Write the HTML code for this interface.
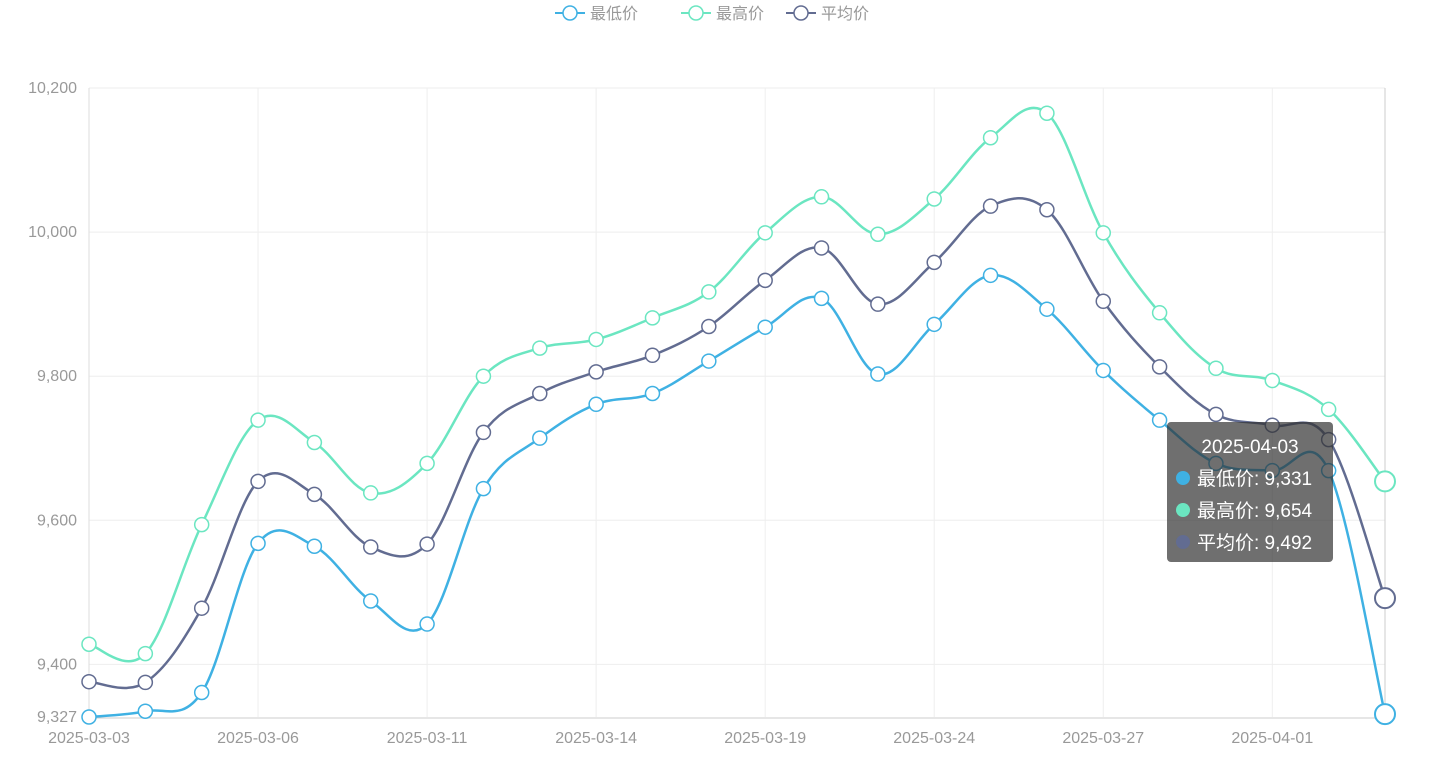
<!DOCTYPE html>
<html><head><meta charset="utf-8"><style>
body{margin:0;background:#fff;font-family:"Liberation Sans","Noto Sans CJK SC",sans-serif;}
svg{display:block}
</style></head><body>
<svg id="chart" width="1440" height="778" xmlns="http://www.w3.org/2000/svg" font-family="Liberation Sans, Noto Sans CJK SC, sans-serif"></svg>
<script>
const dates=["2025-03-03","2025-03-04","2025-03-05","2025-03-06","2025-03-07","2025-03-10","2025-03-11","2025-03-12","2025-03-13","2025-03-14","2025-03-17","2025-03-18","2025-03-19","2025-03-20","2025-03-21","2025-03-24","2025-03-25","2025-03-26","2025-03-27","2025-03-28","2025-03-31","2025-04-01","2025-04-02","2025-04-03"];
const lowValues=[9327,9335,9361,9568,9564,9488,9456,9644,9714,9761,9776,9821,9868,9908,9803,9872,9940,9893,9808,9739,9679,9669,9669,9331];
const highValues=[9428,9415,9594,9739,9708,9638,9679,9800,9839,9851,9881,9917,9999,10049,9997,10046,10131,10165,9999,9888,9811,9794,9754,9654];
const avgValues=[9376,9375,9478,9654,9636,9563,9567,9722,9776,9806,9829,9869,9933,9978,9900,9958,10036,10031,9904,9813,9747,9732,9712,9492];
const yTicks=[9400,9600,9800,10000,10200];
const yMin=9327,yMax=10200;
const seriesNames=["最低价","最高价","平均价"];
const colors=["#3fb1e3","#6be6c1","#626c91"];
const L=89,R=1385,T=88,B=717;
const NS="http://www.w3.org/2000/svg";
const svg=document.getElementById('chart');
const xs=i=>L+(R-L)*i/(dates.length-1);
const ys=v=>B-(v-yMin)/(yMax-yMin)*(B-T);
function el(t,a,p){const e=document.createElementNS(NS,t);for(const k in a)e.setAttribute(k,a[k]);(p||svg).appendChild(e);return e;}
// grid
yTicks.forEach(v=>{
 const g=el('line',{x1:L,x2:R,y1:ys(v),y2:ys(v),stroke:'#eee'});
 
 
 const t=el('text',{x:L-12,y:ys(v)+5,'text-anchor':'end','font-size':16,fill:'#999'});t.textContent=v.toLocaleString('en-US');
 
 
});
const tm=el('text',{x:L-12,y:B+5,'text-anchor':'end','font-size':16,fill:'#999'});tm.textContent=yMin.toLocaleString('en-US');


dates.forEach((d,i)=>{ if(i%3!==0)return;
 const g=el('line',{x1:xs(i),x2:xs(i),y1:T,y2:B,stroke:'#eee'});
 
 
 const t=el('text',{x:xs(i),y:B+26,'text-anchor':'middle','font-size':16,fill:'#999'});t.textContent=d;
 
 
});
const ax=el('line',{x1:L,x2:R,y1:B+1,y2:B+1,stroke:'#ccc'});


const ay=el('line',{x1:L,x2:L,y1:T,y2:B,stroke:'#ddd'});


const ar=el('line',{x1:R,x2:R,y1:T,y2:B,stroke:'#ccc'});


function smooth(pts){let d=`M${pts[0][0]},${pts[0][1]}`;const s=0.35;
 for(let i=0;i<pts.length-1;i++){const p0=pts[i-1]||pts[i],p1=pts[i],p2=pts[i+1],p3=pts[i+2]||p2;
 const c1=[p1[0]+(p2[0]-p0[0])*s/2,p1[1]+(p2[1]-p0[1])*s/2],c2=[p2[0]-(p3[0]-p1[0])*s/2,p2[1]-(p3[1]-p1[1])*s/2];
 d+=` C${c1[0]},${c1[1]} ${c2[0]},${c2[1]} ${p2[0]},${p2[1]}`;}return d;}
[lowValues,highValues,avgValues].forEach((vals,si)=>{
 const pts=vals.map((v,i)=>[xs(i),ys(v)]);
 const p=el('path',{d:smooth(pts),fill:'none',stroke:colors[si],'stroke-width':2.5});
 
 
 pts.forEach((q,i)=>{const last=i===pts.length-1;
  const c=el('circle',{cx:q[0],cy:q[1],r:last?10:7,fill:'#fff',stroke:colors[si],'stroke-width':last?2:1.5});
  
  
 });
});
// legend
const lx=[555,681,786];
seriesNames.forEach((n,i)=>{
 const g=el('g',{});
 
 
 el('line',{x1:lx[i],x2:lx[i]+30,y1:13,y2:13,stroke:colors[i],'stroke-width':2},g);
 el('circle',{cx:lx[i]+15,cy:13,r:7,fill:'#fff',stroke:colors[i],'stroke-width':1.5},g);
 const t=el('text',{x:lx[i]+35,y:19,'font-size':16,fill:'#999'},g);t.textContent=n;
});
// tooltip
const tg=el('g',{});


el('rect',{x:1167,y:422,width:166,height:140,rx:4,fill:'rgba(50,50,50,0.7)'},tg);
const last=dates.length-1;
const tt=el('text',{x:1250,y:453,'text-anchor':'middle','font-size':19,fill:'#fff'},tg);tt.textContent=dates[last];
[lowValues,highValues,avgValues].forEach((vals,i)=>{
 el('circle',{cx:1183,cy:478+i*32,r:7,fill:colors[i]},tg);
 const t=el('text',{x:1197,y:485+i*32,'font-size':19,fill:'#fff'},tg);t.textContent=seriesNames[i]+': '+vals[last].toLocaleString('en-US');
});
</script>
</body></html>
